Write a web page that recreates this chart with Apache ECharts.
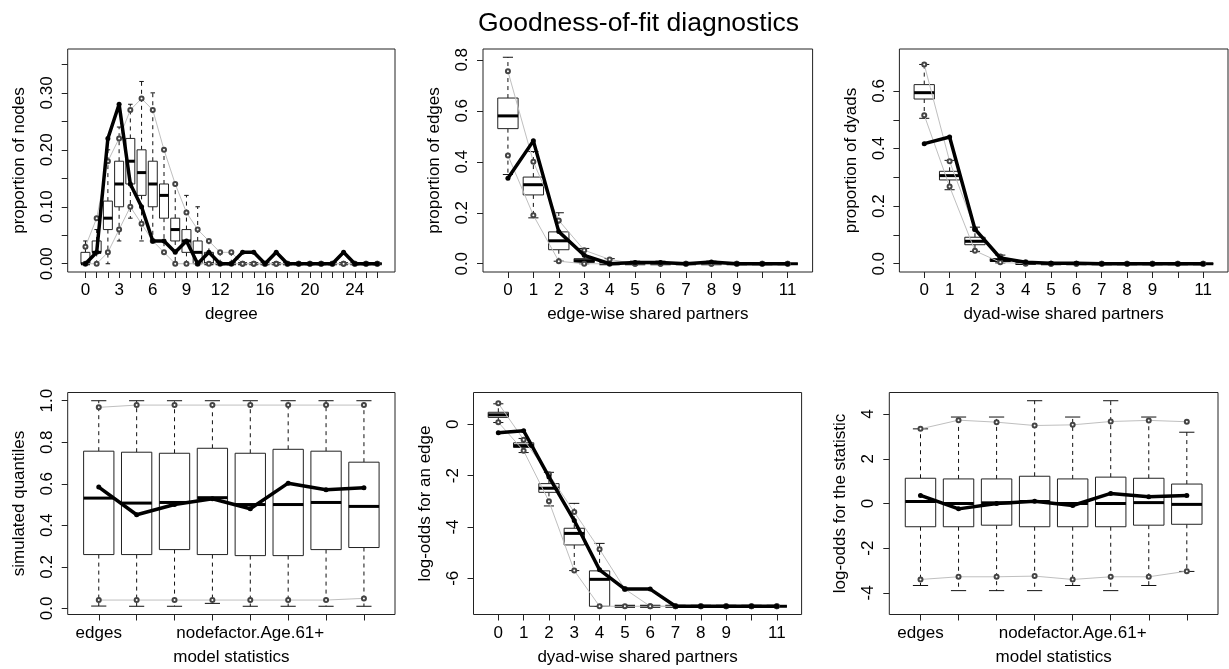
<!DOCTYPE html>
<html>
<head>
<meta charset="utf-8">
<script src="https://cdn.jsdelivr.net/npm/echarts@6/dist/echarts.min.js"></script>
<style>
html, body { margin: 0; padding: 0; background: #fff; }
#main { width: 1229px; height: 669px; }
</style>
</head>
<body>
<div id="main"></div>
<script>
// ---- degree ----
var degCats = [0,1,2,3,4,5,6,7,8,9,10,11,12,13,14,15,16,17,18,19,20,21,22,23,24,25,26];
var degShow = [0,3,6,9,12,16,20,24];
// [min, q1, median, q3, max]
var degBox = [
	[0,0,0,0.02,0.04],[0,0.02,0.02,0.04,0.06],[0,0.06,0.08,0.11,0.20],[0.04,0.10,0.14,0.18,0.24],
	[0.08,0.14,0.18,0.22,0.28],[0.04,0.12,0.16,0.20,0.32],[0.04,0.10,0.14,0.18,0.30],[0.02,0.08,0.12,0.14,0.20],
	[0,0.04,0.06,0.08,0.14],[0,0.02,0.04,0.06,0.12],[0,0,0.02,0.04,0.10],[0,0,0,0.02,0.04],
	[0,0,0,0,0.02],[0,0,0,0,0.02],[0,0,0,0,0],[0,0,0,0,0],[0,0,0,0,0],[0,0,0,0,0],[0,0,0,0,0],
	[0,0,0,0,0],[0,0,0,0,0],[0,0,0,0,0],[0,0,0,0,0],[0,0,0,0,0],[0,0,0,0,0],[0,0,0,0,0],[0,0,0,0,0]
];
var degLow = [0,0,0.02,0.06,0.10,0.07,0.04,0.02,0,0,0,0,0,0,0,0,0,0,0,0,0,0,0,0,0,0,0];
var degHigh = [0.03,0.08,0.18,0.22,0.27,0.29,0.27,0.20,0.14,0.09,0.06,0.04,0.02,0.02,0,0,0,0,0,0,0,0,0,0,0,0,0];
var degObs = [0,0.02,0.22,0.28,0.14,0.10,0.04,0.04,0.02,0.04,0,0.02,0,0,0.02,0.02,0,0.02,0,0,0,0,0,0.02,0,0,0];

// ---- edge-wise shared partners ----
var espCats = [0,1,2,3,4,5,6,7,8,9,10,11];
var espShow = [0,1,2,3,4,5,6,7,8,9,11];
var espBox = [
	[0.35,0.53,0.58,0.65,0.81],[0.18,0.27,0.31,0.34,0.44],[0.01,0.055,0.09,0.125,0.20],[0,0.005,0.012,0.02,0.06],
	[0,0,0,0.003,0.02],[0,0,0,0,0.01],[0,0,0,0,0.01],[0,0,0,0,0],[0,0,0,0,0.01],[0,0,0,0,0],[0,0,0,0,0],[0,0,0,0,0]
];
var espLow = [0.425,0.19,0.01,0,0,0,0,0,0,0,0,0];
var espHigh = [0.755,0.40,0.17,0.053,0.017,0,0,0,0,0,0,0];
var espObs = [0.335,0.482,0.126,0.033,0,0.005,0.005,0,0.007,0,0,0];

// ---- dyad-wise shared partners ----
var dspCats = [0,1,2,3,4,5,6,7,8,9,10,11];
var dspBox = [
	[0.505,0.572,0.594,0.622,0.692],[0.257,0.291,0.306,0.321,0.359],[0.043,0.066,0.078,0.092,0.127],[0.003,0.008,0.012,0.018,0.03],
	[0,0,0.001,0.002,0.006],[0,0,0,0,0],[0,0,0,0,0],[0,0,0,0,0],[0,0,0,0,0],[0,0,0,0,0],[0,0,0,0,0],[0,0,0,0,0]
];
var dspLow = [0.516,0.268,0.045,0.005,0,0,0,0,0,0,0,0];
var dspHigh = [0.692,0.356,0.12,0.025,0.005,0,0,0,0,0,0,0];
var dspObs = [0.417,0.44,0.12,0.02,0.005,0.002,0.002,0,0,0,0,0];

// ---- model statistics (quantiles) ----
var statCats = ['edges','','','','nodefactor.Age.61+','','',''];
var statShow = [0,4];
var qBox = [
	[0.011,0.259,0.531,0.757,1],[0.01,0.259,0.507,0.752,1],[0.01,0.283,0.51,0.747,1],[0.024,0.259,0.533,0.771,1],
	[0.01,0.254,0.50,0.747,1],[0.01,0.254,0.50,0.766,1],[0.01,0.283,0.51,0.757,1],[0.01,0.293,0.491,0.704,1]
];
var qLow = [0.04,0.04,0.04,0.04,0.04,0.04,0.04,0.048];
var qHigh = [0.968,0.979,0.979,0.979,0.979,0.979,0.979,0.979];
var qObs = [0.584,0.451,0.50,0.528,0.48,0.603,0.571,0.581];

// ---- log-odds for an edge by dsp ----
var loBox = [
	[0.07,0.27,0.37,0.47,0.8],[-1.1,-0.9,-0.83,-0.72,-0.55],[-3.18,-2.65,-2.49,-2.31,-1.87],[-5.7,-4.7,-4.25,-4.05,-3.08],
	[-7.09,-7.09,-6.04,-5.71,-4.64],[-7.09,-7.09,-7.09,-7.09,-7.09],[-7.09,-7.09,-7.09,-7.09,-7.09],[-7.09,-7.09,-7.09,-7.09,-7.09],
	[-7.09,-7.09,-7.09,-7.09,-7.09],[-7.09,-7.09,-7.09,-7.09,-7.09],[-7.09,-7.09,-7.09,-7.09,-7.09],[-7.09,-7.09,-7.09,-7.09,-7.09]
];
var loLow = [0.08,-1.03,-3.0,-5.7,-7.09,-7.09,-7.09,-7.09,-7.09,-7.09,-7.09,-7.09];
var loHigh = [0.82,-0.6,-1.95,-3.42,-4.87,-6.42,-7.09,-7.09,-7.09,-7.09,-7.09,-7.09];
var loObs = [-0.33,-0.25,-2.05,-3.75,-5.67,-6.42,-6.42,-7.09,-7.09,-7.09,-7.09,-7.09];

// ---- log-odds for the statistic ----
var lsBox = [
	[-3.67,-1.04,0.09,1.13,3.34],[-3.9,-1.04,0,1.10,3.87],[-3.9,-0.97,0.03,1.10,3.87],[-3.9,-1.04,0.09,1.22,4.6],
	[-3.67,-1.04,0,1.10,3.87],[-3.9,-1.04,0,1.18,4.6],[-3.67,-0.97,0.04,1.13,3.87],[-3.04,-0.93,-0.04,0.87,3.19]
];
var lsLow = [-3.4,-3.28,-3.28,-3.25,-3.4,-3.28,-3.28,-3.03];
var lsHigh = [3.34,3.73,3.64,3.49,3.52,3.67,3.72,3.66];
var lsObs = [0.36,-0.24,0,0.1,-0.09,0.45,0.3,0.36];

var FONT = 'Liberation Sans, Arial, sans-serif';

var panels = [
	{cats: degCats, show: degShow, box: degBox, low: degLow, high: degHigh, obs: degObs,
	 ylim: [0, 0.3625], yTicks: [0,0.05,0.1,0.15,0.2,0.25,0.3,0.35], yLabels: [0,0.1,0.2,0.3], dec: 2,
	 xName: 'degree', yName: 'proportion of nodes'},
	{cats: espCats, show: espShow, box: espBox, low: espLow, high: espHigh, obs: espObs,
	 ylim: [0, 0.81], yTicks: [0,0.2,0.4,0.6,0.8], yLabels: [0,0.2,0.4,0.6,0.8], dec: 1,
	 xName: 'edge-wise shared partners', yName: 'proportion of edges'},
	{cats: dspCats, show: espShow, box: dspBox, low: dspLow, high: dspHigh, obs: dspObs,
	 ylim: [0, 0.717], yTicks: [0,0.1,0.2,0.3,0.4,0.5,0.6], yLabels: [0,0.2,0.4,0.6], dec: 1,
	 xName: 'dyad-wise shared partners', yName: 'proportion of dyads'},
	{cats: statCats, show: statShow, box: qBox, low: qLow, high: qHigh, obs: qObs,
	 ylim: [0.01, 1], yTicks: [0,0.2,0.4,0.6,0.8,1], yLabels: [0,0.2,0.4,0.6,0.8,1], dec: 1,
	 xName: 'model statistics', yName: 'simulated quantiles'},
	{cats: dspCats, show: espShow, box: loBox, low: loLow, high: loHigh, obs: loObs,
	 ylim: [-7.09, 0.92], yTicks: [-6,-4,-2,0], yLabels: [-6,-4,-2,0], dec: 0,
	 xName: 'dyad-wise shared partners', yName: 'log-odds for an edge'},
	{cats: statCats, show: statShow, box: lsBox, low: lsLow, high: lsHigh, obs: lsObs,
	 ylim: [-4.6, 4.6], yTicks: [-4,-2,0,2,4], yLabels: [-4,-2,0,2,4], dec: 0,
	 xName: 'model statistics', yName: 'log-odds for the statistic'}
];

var layout = [
	{left: 67.7, top: 49, width: 327.3, height: 223},
	{left: 483, top: 49, width: 329.6, height: 223},
	{left: 899.4, top: 49, width: 328.6, height: 223},
	{left: 67.7, top: 392.5, width: 327.3, height: 222},
	{left: 473.5, top: 392.5, width: 328.1, height: 222},
	{left: 889.3, top: 392.5, width: 328.7, height: 222}
];

function renderBox(params, api) {
	var x = api.value(0);
	var lo = api.coord([x, api.value(1)]);
	var q1 = api.coord([x, api.value(2)]);
	var md = api.coord([x, api.value(3)]);
	var q3 = api.coord([x, api.value(4)]);
	var hi = api.coord([x, api.value(5)]);
	var half = api.size([0.4, 0])[0];
	var cap = half / 2;
	var cx = q1[0];
	var dash = {stroke: '#111', lineWidth: 1, lineDash: [4, 4]};
	var solid = {stroke: '#111', lineWidth: 1};
	return {
		type: 'group',
		children: [
			{type: 'line', shape: {x1: cx, y1: q3[1], x2: cx, y2: hi[1]}, style: dash},
			{type: 'line', shape: {x1: cx, y1: q1[1], x2: cx, y2: lo[1]}, style: dash},
			{type: 'line', shape: {x1: cx - cap, y1: hi[1], x2: cx + cap, y2: hi[1]}, style: solid},
			{type: 'line', shape: {x1: cx - cap, y1: lo[1], x2: cx + cap, y2: lo[1]}, style: solid},
			{type: 'rect', shape: {x: cx - half, y: q3[1], width: 2 * half, height: q1[1] - q3[1]},
			 style: {fill: '#fff', stroke: '#222', lineWidth: 1}},
			{type: 'line', shape: {x1: cx - half, y1: md[1], x2: cx + half, y2: md[1]},
			 style: {stroke: '#000', lineWidth: 3}}
		]
	};
}

var option = {
	animation: false,
	backgroundColor: '#fff',
	textStyle: {fontFamily: FONT},
	title: {
		text: 'Goodness-of-fit diagnostics',
		left: 473,
		top: 5,
		textStyle: {fontFamily: FONT, fontSize: 26.5, fontWeight: 'normal', color: '#000'}
	},
	grid: [],
	xAxis: [],
	yAxis: [],
	series: []
};

panels.forEach(function(p, k) {
	var n = p.cats.length;
	var pad = 0.5 + 0.04 * n;
	var yr = p.ylim[1] - p.ylim[0];
	var idx = p.cats.map(function(c, i) { return i; });

	option.grid.push(Object.assign({
		show: true,
		borderColor: '#222',
		borderWidth: 1,
		backgroundColor: 'transparent'
	}, layout[k]));

	option.xAxis.push({
		type: 'value',
		gridIndex: k,
		position: 'bottom',
		min: -pad,
		max: n - 1 + pad,
		name: p.xName,
		nameLocation: 'middle',
		nameGap: 34,
		nameTextStyle: {fontFamily: FONT, fontSize: 17, color: '#000'},
		axisLine: {show: false, onZero: false},
		splitLine: {show: false},
		axisTick: {show: true, length: 6, customValues: idx, lineStyle: {color: '#222'}},
		axisLabel: {
			customValues: p.show,
			margin: 10,
			fontFamily: FONT,
			fontSize: 17,
			color: '#000',
			formatter: function(v) { return String(p.cats[Math.round(v)]); }
		}
	});

	option.yAxis.push({
		type: 'value',
		gridIndex: k,
		position: 'left',
		min: p.ylim[0] - 0.04 * yr,
		max: p.ylim[1] + 0.04 * yr,
		name: p.yName,
		nameLocation: 'middle',
		nameRotate: 90,
		nameGap: 40,
		nameTextStyle: {fontFamily: FONT, fontSize: 17, color: '#000'},
		axisLine: {show: false, onZero: false},
		splitLine: {show: false},
		axisTick: {show: true, length: 6, customValues: p.yTicks, lineStyle: {color: '#222'}},
		axisLabel: {
			customValues: p.yLabels,
			rotate: 90,
			margin: 12,
			fontFamily: FONT,
			fontSize: 17,
			color: '#000',
			formatter: function(v) { return Number(v).toFixed(p.dec); }
		}
	});

	option.series.push({
		type: 'custom',
		xAxisIndex: k,
		yAxisIndex: k,
		renderItem: renderBox,
		silent: true,
		z: 2,
		encode: {x: 0, y: [1, 2, 3, 4, 5]},
		data: p.box.map(function(b, i) { return [i].concat(b); })
	});

	[p.low, p.high].forEach(function(arr) {
		option.series.push({
			type: 'line',
			xAxisIndex: k,
			yAxisIndex: k,
			silent: true,
			z: 3,
			symbol: 'emptyCircle',
			symbolSize: 4,
			itemStyle: {color: '#444', borderWidth: 0.8},
			lineStyle: {color: '#bfbfbf', width: 1},
			data: arr.map(function(v, i) { return [i, v]; })
		});
	});

	option.series.push({
		type: 'line',
		xAxisIndex: k,
		yAxisIndex: k,
		silent: true,
		z: 4,
		symbol: 'circle',
		symbolSize: 5,
		itemStyle: {color: '#000'},
		lineStyle: {color: '#000', width: 3.5},
		data: p.obs.map(function(v, i) { return [i, v]; })
	});
});

var myChart = echarts.init(document.getElementById('main'));
myChart.setOption(option);
window.addEventListener('resize', function() {
	myChart.resize();
});
</script>
</body>
</html>
